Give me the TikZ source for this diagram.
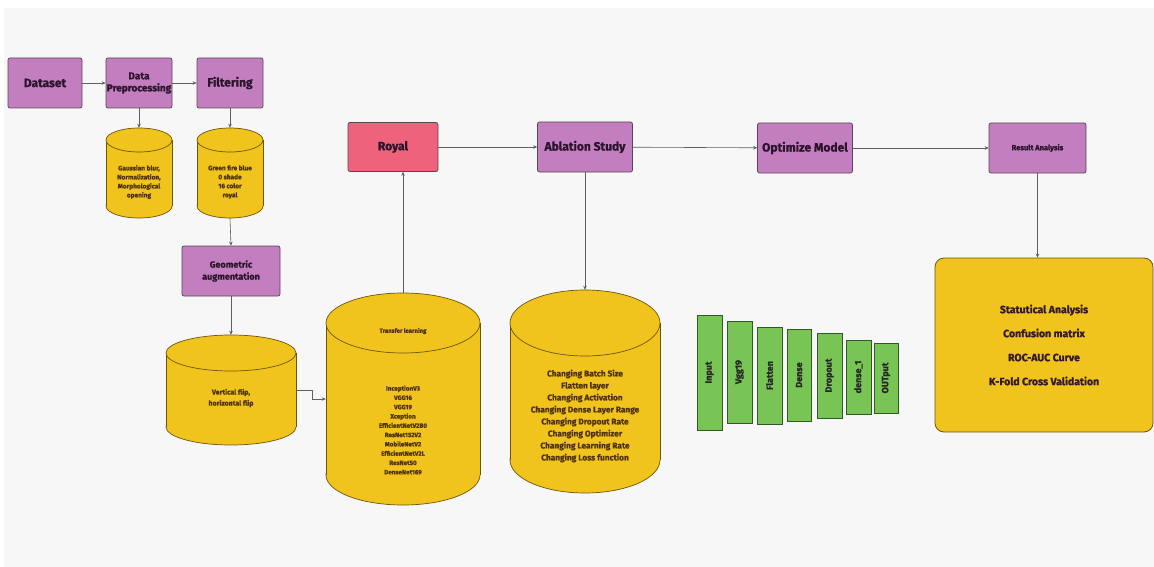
\documentclass[tikz,border=0pt]{standalone}
\usepackage{fontspec}
\setmainfont{Fira Sans}[BoldFeatures={FakeBold=1.2}]
\usetikzlibrary{arrows.meta,calc}
\definecolor{bg}{RGB}{247,247,247}
\definecolor{purp}{RGB}{194,126,190}
\definecolor{purpline}{RGB}{90,70,90}
\definecolor{royalc}{RGB}{238,98,124}
\definecolor{yel}{RGB}{240,196,28}
\definecolor{yelline}{RGB}{110,85,10}
\definecolor{grn}{RGB}{120,196,84}
\definecolor{grnline}{RGB}{50,90,40}
\definecolor{txt}{RGB}{45,20,45}
\definecolor{ytxt}{RGB}{80,50,10}
\definecolor{conn}{RGB}{95,95,95}
\tikzset{
  pbox/.style={draw=purpline, fill=purp, rounded corners=2pt, line width=0.7pt, inner sep=0pt, align=center, font=\bfseries, text=txt},
  rbox/.style={pbox, fill=royalc},
  cylline/.style={draw=yelline, line width=0.7pt},
  ctext/.style={align=center, font=\bfseries, text=ytxt, inner sep=0pt},
  bar/.style={draw=grnline, fill=grn, line width=0.8pt, rotate=90, inner sep=0pt, font=\bfseries\fontsize{9}{10}\selectfont, text=black!85},
  conn/.style={draw=conn, line width=0.6pt, -{Stealth[length=4pt,width=3.5pt]}},
  resbox/.style={draw=yelline, fill=yel, rounded corners=9pt, line width=0.8pt, align=center, font=\bfseries\fontsize{10.5}{24}\selectfont, text=txt!80!ytxt},
}
\newcommand\mycyl[6]{% name, cx, top, bottom, half width, ry
  \pgfmathsetmacro\mycyt{#3+#6}%
  \pgfmathsetmacro\mycyb{#4-#6}%
  \pgfmathsetmacro\mycym{(#3+#4)/2}%
  \pgfmathsetmacro\mycyw{2*#5}%
  \pgfmathsetmacro\mycyh{#4-#3}%
  \fill[yel] (#2,\mycyb) ellipse [x radius=#5pt, y radius=#6pt];
  \draw[cylline] (#2,\mycyb) ellipse [x radius=#5pt, y radius=#6pt];
  \fill[yel] (#2-#5,\mycyt) rectangle (#2+#5,\mycyb);
  \draw[cylline] (#2-#5,\mycyt) -- (#2-#5,\mycyb) (#2+#5,\mycyt) -- (#2+#5,\mycyb);
  \filldraw[fill=yel,cylline] (#2,\mycyt) ellipse [x radius=#5pt, y radius=#6pt];
  \node[inner sep=0pt, minimum width=\mycyw pt, minimum height=\mycyh pt] (#1) at (#2,\mycym) {};
}
\begin{document}
\begin{tikzpicture}[x=1pt,y=-1pt]
\useasboundingbox (0,0) rectangle (1154,567);
\fill[white] (0,0) rectangle (1154,567);
\fill[bg] (4,8) rectangle (1154,567);

% top-left chain
\node[pbox, minimum width=74pt, minimum height=50pt, font=\bfseries\fontsize{12}{13}\selectfont] (ds) at (45,83) {Dataset};
\node[pbox, minimum width=66pt, minimum height=50pt, font=\bfseries\fontsize{10}{12}\selectfont] (dp) at (139,83) {Data\\Preprocessing};
\node[pbox, minimum width=66pt, minimum height=50pt, font=\bfseries\fontsize{12}{13}\selectfont] (fl) at (230,83) {Filtering};

\mycyl{c1}{139}{128}{218}{33}{12}
\node[ctext, font=\bfseries\fontsize{6.5}{9}\selectfont] (c1t) at (139,182) {Gaussian blur,\\Normalization,\\Morphological\\opening};
\mycyl{c2}{230}{128}{218}{33}{12}
\node[ctext, font=\bfseries\fontsize{6.5}{9}\selectfont] (c2t) at (230,182) {Green fire blue\\0 shade\\16 color\\royal};

\node[pbox, minimum width=98pt, minimum height=50pt, font=\bfseries\fontsize{9}{12}\selectfont] (geo) at (231,271) {Geometric\\augmentation};

\mycyl{c3}{231}{335}{445}{65}{18}
\node[ctext, font=\bfseries\fontsize{7}{11}\selectfont] (c3t) at (231,398) {Vertical flip,\\horizontal flip};

\mycyl{c4}{403}{293}{505}{77}{30}
\node[ctext, font=\bfseries\fontsize{6}{8}\selectfont] (c4h) at (403,331) {Transfer learning};
\node[ctext, font=\bfseries\fontsize{6.3}{9.3}\selectfont] (c4t) at (403,430) {InceptionV3\\VGG16\\VGG19\\Xception\\EfficientNetV2B0\\ResNet152V2\\MobileNetV2\\EfficientNetV2L\\ResNet50\\DenseNet169};

\node[rbox, minimum width=90pt, minimum height=49pt, font=\bfseries\fontsize{12}{13}\selectfont] (royal) at (393,147) {Royal};
\node[pbox, minimum width=95pt, minimum height=50pt, font=\bfseries\fontsize{12}{13}\selectfont] (abl) at (585,147) {Ablation Study};
\node[pbox, minimum width=95pt, minimum height=50pt, font=\bfseries\fontsize{12}{13}\selectfont] (opt) at (805,148) {Optimize Model};
\node[pbox, minimum width=97pt, minimum height=50pt, font=\bfseries\fontsize{7.5}{8}\selectfont] (res) at (1037.5,148) {Result Analysis};

\mycyl{c5}{585}{290}{493}{75}{33}
\node[ctext, font=\bfseries\fontsize{8.3}{12}\selectfont] (c5t) at (585,416) {Changing Batch Size\\Flatten layer\\Changing Activation\\Changing Dense Layer Range\\Changing Dropout Rate\\Changing Optimizer\\Changing Learning Rate\\Changing Loss function};

% green bars
\node[bar, minimum width=115pt, minimum height=25pt] (b1) at (709.5,372.5) {Input};
\node[bar, minimum width=102pt, minimum height=25pt] (b2) at (739.5,372) {Vgg19};
\node[bar, minimum width=97pt, minimum height=25pt] (b3) at (769.5,375.5) {Flatten};
\node[bar, minimum width=92pt, minimum height=24pt] (b4) at (799,375) {Dense};
\node[bar, minimum width=85pt, minimum height=25pt] (b5) at (829.5,375.5) {Dropout};
\node[bar, minimum width=74pt, minimum height=25pt] (b6) at (858.5,377) {dense\_1};
\node[bar, minimum width=70pt, minimum height=24pt] (b7) at (886,378) {OUTput};

\node[resbox, minimum width=218pt, minimum height=174pt] (rb) at (1044,345) {Statutical Analysis\\Confusion matrix\\ROC-AUC Curve\\K-Fold Cross Validation};

% connectors
\draw[conn] (ds) -- (dp);
\draw[conn] (dp) -- (fl);
\draw[conn] (dp.south) -- (c1.north);
\draw[conn] (fl.south) -- (c2.north);
\draw[conn] (c2.south) -- (geo.north);
\draw[conn] (geo.south) -- (c3.north);
\draw[conn] (c3.east) -- ([xshift=16pt]c3.east) |- (c4.west);
\draw[conn] (c4.north) -- (c4.north |- royal.south);
\draw[conn] (royal) -- (abl);
\draw[conn] (abl) -- (opt);
\draw[conn] (opt) -- (res);
\draw[conn] (abl.south) -- (c5.north);
\draw[conn] (res.south) -- (res.south |- rb.north);
\end{tikzpicture}
\end{document}
